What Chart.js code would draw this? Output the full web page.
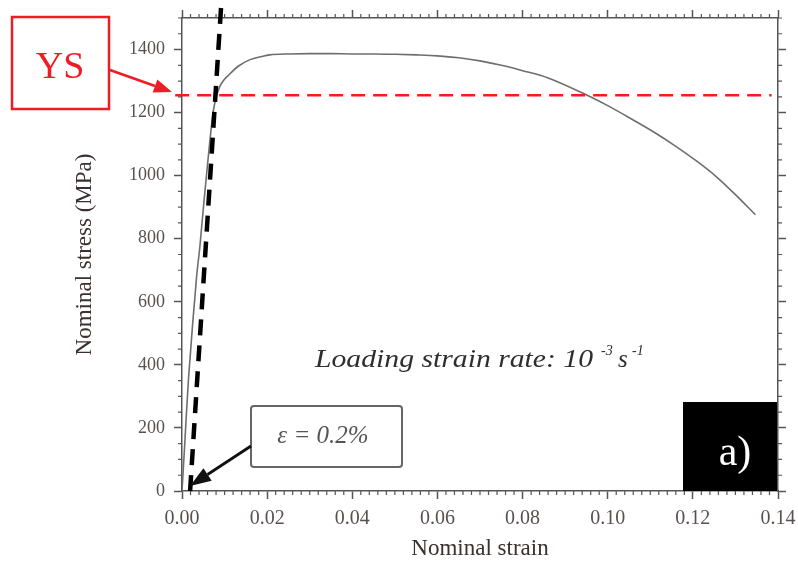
<!DOCTYPE html>
<html><head><meta charset="utf-8">
<script src="https://cdn.jsdelivr.net/npm/chart.js@4/dist/chart.umd.min.js"></script>
<style>html,body{margin:0;padding:0;background:#fff;}</style>
</head><body>
<canvas id="c" width="798" height="569"></canvas>
<script>
// ---- data ----
const strain = [0, 0.0005, 0.001, 0.0015, 0.002, 0.0025, 0.003, 0.0035, 0.0042, 0.0047, 0.0052, 0.0058, 0.0064, 0.0073, 0.008, 0.0088, 0.0097, 0.0109, 0.0132, 0.016, 0.019, 0.0206, 0.025, 0.03, 0.035, 0.04, 0.045, 0.05, 0.055, 0.06, 0.065, 0.07, 0.075, 0.08, 0.086, 0.0953, 0.1, 0.1058, 0.111, 0.116, 0.121, 0.1254, 0.13, 0.1347];
const stress = [0, 115, 235, 350, 440, 530, 610, 690, 775, 850, 924, 1008, 1090, 1200, 1248, 1280, 1301, 1318, 1347, 1368, 1379, 1383, 1386, 1387, 1387, 1386, 1386, 1385, 1383, 1380, 1374, 1364, 1350, 1333, 1310, 1254, 1222, 1178, 1137, 1093, 1045, 998, 940, 876];
const offsetStrain = [0.0019, 0.0093];   // 0.2% offset line
const offsetStress = [0, 1560];
const ysStress = 1255;                   // yield strength line
const ysStrain = [-0.0016, 0.1385];
const xRange = [0, 0.14], xMajor = 0.02, xMinor = 0.002;
const yRange = [0, 1500], yMajor = 200, yMinor = 50;
const xTitle = 'Nominal strain';
const yTitle = 'Nominal stress (MPa)';

const toXY = (xs, ys) => xs.map((v, i) => ({x: v, y: ys[i]}));
const axisCol = '#555';
const tickFontX = {family: 'Liberation Serif', size: 20};
const tickFontY = {family: 'Liberation Serif', size: 18};
const titleFont = {family: 'Liberation Serif', size: 23, lineHeight: 1.2};

const bg = {id: 'bg', beforeDraw(c) {const x = c.ctx; x.save(); x.fillStyle = '#fff'; x.fillRect(0, 0, c.width, c.height); x.restore();}};

function arrow(ctx, x1, y1, x2, y2, color, lw, hl, hw) {
  const a = Math.atan2(y2 - y1, x2 - x1);
  const bx = x2 - hl * Math.cos(a), by = y2 - hl * Math.sin(a);
  ctx.strokeStyle = color; ctx.fillStyle = color; ctx.lineWidth = lw; ctx.setLineDash([]);
  ctx.beginPath(); ctx.moveTo(x1, y1); ctx.lineTo(bx, by); ctx.stroke();
  ctx.beginPath(); ctx.moveTo(x2, y2);
  ctx.lineTo(bx + hw / 2 * Math.sin(a), by - hw / 2 * Math.cos(a));
  ctx.lineTo(bx - hw / 2 * Math.sin(a), by + hw / 2 * Math.cos(a));
  ctx.closePath(); ctx.fill();
}

const deco = {
  id: 'deco',
  afterDraw(chart) {
    const {ctx, chartArea: a, scales: {x, y}} = chart;
    ctx.save();
    // minor ticks
    ctx.strokeStyle = axisCol; ctx.lineWidth = 1.2;
    const nx = Math.round((xRange[1] - xRange[0]) / xMinor), per = Math.round(xMajor / xMinor);
    for (let i = 0; i <= nx; i++) {
      if (i % per === 0) continue;
      const px = x.getPixelForValue(xRange[0] + i * xMinor);
      ctx.beginPath(); ctx.moveTo(px, a.bottom); ctx.lineTo(px, a.bottom + 4); ctx.moveTo(px, a.top); ctx.lineTo(px, a.top - 4); ctx.stroke();
    }
    const ny = Math.round((yRange[1] - yRange[0]) / yMinor), pery = Math.round(yMajor / yMinor);
    for (let i = 0; i <= ny; i++) {
      if (i % pery === 0) continue;
      const py = y.getPixelForValue(yRange[0] + i * yMinor);
      ctx.beginPath(); ctx.moveTo(a.left - 4, py); ctx.lineTo(a.left, py); ctx.moveTo(a.right, py); ctx.lineTo(a.right + 4, py); ctx.stroke();
    }
    // YS box + arrow
    ctx.strokeStyle = '#ee1c24'; ctx.lineWidth = 2.5;
    ctx.strokeRect(12, 17, 97, 92);
    ctx.fillStyle = '#ee1c24'; ctx.font = '38px "Liberation Serif"'; ctx.textAlign = 'center'; ctx.textBaseline = 'alphabetic';
    ctx.fillText('YS', 60, 78);
    arrow(ctx, 110, 70, 172, 92, '#ee1c24', 2.5, 18, 14);
    // epsilon box + arrow
    ctx.strokeStyle = '#666'; ctx.lineWidth = 2;
    ctx.beginPath(); ctx.roundRect(251, 406, 151, 61, 3); ctx.fillStyle = '#fff'; ctx.fill(); ctx.stroke();
    ctx.fillStyle = '#555'; ctx.font = 'italic 25px "Liberation Serif"'; ctx.textAlign = 'center';
    ctx.fillText('\u03b5 = 0.2%', 323, 443);
    arrow(ctx, 251, 446, 190, 486, '#111', 2.8, 21, 15);
    // loading rate text
    ctx.fillStyle = '#2e2e2e'; ctx.textAlign = 'left';
    ctx.font = 'italic 25px "Liberation Serif"';
    const t = 'Loading strain rate: 10';
    const w = ctx.measureText(t).width;
    ctx.save(); ctx.translate(315, 367); ctx.scale(278 / w, 1); ctx.fillText(t, 0, 0); ctx.restore();
    ctx.font = 'italic 25px "Liberation Serif"';
    ctx.fillText('s', 618, 367);
    ctx.font = 'italic 14px "Liberation Serif"';
    ctx.fillText('-3', 601, 355);
    ctx.fillText('-1', 632, 355);
    // a) box
    ctx.fillStyle = '#000'; ctx.fillRect(683, 402, 94, 89);
    ctx.fillStyle = '#fff'; ctx.font = '42px "Liberation Serif"'; ctx.textAlign = 'center';
    ctx.fillText('a)', 735, 465);
    ctx.restore();
  }
};

const gridOpt = {drawOnChartArea: false, drawTicks: true, tickLength: 8, tickColor: axisCol, tickWidth: 1.5};
const borderOpt = {color: axisCol, width: 1.5};
const noPadX = s => { s.paddingLeft = 0; s.paddingRight = 0; };
const noPadY = s => { s.paddingTop = 0; s.paddingBottom = 0; };

new Chart(document.getElementById('c'), {
  type: 'scatter',
  data: {datasets: [
    {label: 'stress', data: toXY(strain, stress), showLine: true, borderColor: '#6e6e6e', borderWidth: 1.6, pointRadius: 0, cubicInterpolationMode: 'monotone', order: 3},
    {label: 'offset', data: toXY(offsetStrain, offsetStress), showLine: true, borderColor: '#000', borderWidth: 4.5, borderDash: [16, 10], pointRadius: 0, clip: false, order: 2},
    {label: 'YS', data: toXY(ysStrain, [ysStress, ysStress]), showLine: true, borderColor: '#ff1a1a', borderWidth: 2.5, borderDash: [14, 8], pointRadius: 0, clip: false, order: 1}
  ]},
  options: {
    responsive: false, animation: false, devicePixelRatio: 1,
    layout: {padding: 0},
    plugins: {legend: {display: false}, tooltip: {enabled: false}},
    scales: {
      x: {type: 'linear', position: 'bottom', min: xRange[0], max: xRange[1],
        ticks: {stepSize: xMajor, includeBounds: false, callback: v => v.toFixed(2), font: tickFontX, color: '#5a5050', padding: 8, maxRotation: 0},
        grid: gridOpt, border: borderOpt,
        title: {display: true, text: xTitle, font: titleFont, color: '#3b2f2f', padding: {top: 0, bottom: 6}},
        afterFit: s => { s.height = 78; noPadX(s); }},
      x2: {type: 'linear', position: 'top', min: xRange[0], max: xRange[1],
        ticks: {stepSize: xMajor, includeBounds: false, display: false},
        grid: gridOpt, border: borderOpt,
        afterFit: s => { s.height = 18; noPadX(s); }},
      y: {type: 'linear', position: 'left', min: yRange[0], max: yRange[1],
        ticks: {stepSize: yMajor, includeBounds: false, callback: v => String(v), font: tickFontY, color: '#5a5050', padding: 9},
        grid: gridOpt, border: borderOpt,
        title: {display: true, text: yTitle, font: titleFont, color: '#3b2f2f', padding: {top: 71, bottom: 0}},
        afterFit: s => { s.width = 182; noPadY(s); }},
      y2: {type: 'linear', position: 'right', min: yRange[0], max: yRange[1],
        ticks: {stepSize: yMajor, includeBounds: false, display: false},
        grid: gridOpt, border: borderOpt,
        afterFit: s => { s.width = 20; noPadY(s); }}
    }
  },
  plugins: [bg, deco]
});
</script>
</body></html>
